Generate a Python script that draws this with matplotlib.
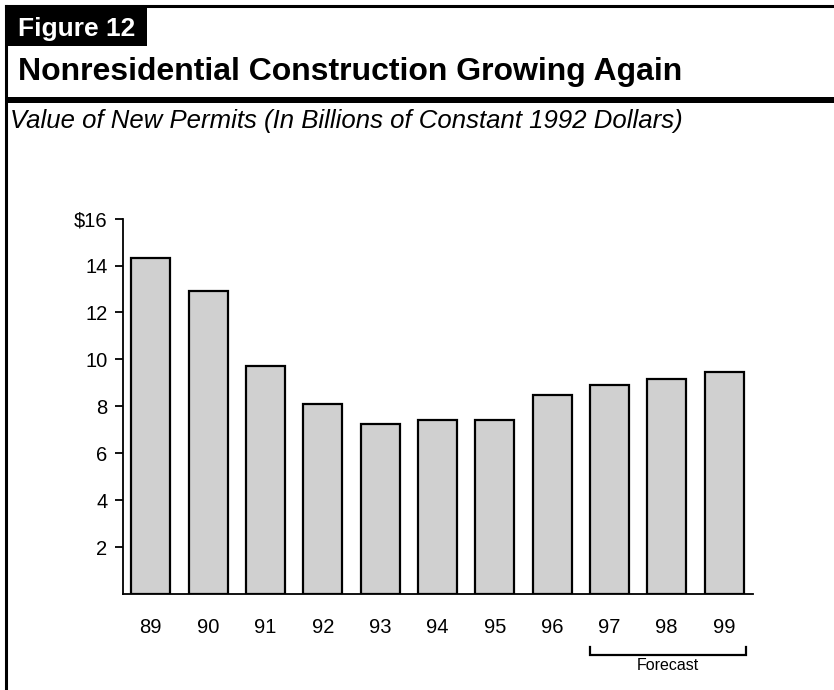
import numpy as np
import matplotlib.pyplot as plt
from matplotlib.patches import Rectangle

plt.rcParams['font.family'] = ['Liberation Sans', 'DejaVu Sans']

years = ["89", "90", "91", "92", "93", "94", "95", "96", "97", "98", "99"]
permits = [14.3, 12.9, 9.7, 8.1, 7.25, 7.4, 7.4, 8.5, 8.9, 9.15, 9.45]
forecast_years = ["97", "98", "99"]
ytick_vals = [2, 4, 6, 8, 10, 12, 14, 16]
ytick_labels = ["2", "4", "6", "8", "10", "12", "14", "$16"]

W, H = 834, 690
fig = plt.figure(figsize=(W / 100, H / 100), dpi=100)

# header frame: thin top rule, left rule, thick rule under the title
fig.add_artist(plt.Line2D([6 / W, 1], [1 - 6 / H, 1 - 6 / H], color="black", lw=2.2))
fig.add_artist(plt.Line2D([6 / W, 6 / W], [0, 1 - 6 / H], color="black", lw=2.2))
fig.add_artist(Rectangle((6 / W, 1 - 103 / H), 1 - 6 / W, 6 / H, color="black", lw=0))
fig.add_artist(Rectangle((5 / W, 1 - 46 / H), 142 / W, 39 / H, color="black", lw=0))

fig.text(18 / W, 1 - 36 / H, "Figure 12", color="white", fontsize=19, fontweight="bold",
         va="baseline", ha="left")
fig.text(18 / W, 1 - 80 / H, "Nonresidential Construction Growing Again", color="black",
         fontsize=23, fontweight="bold", va="baseline", ha="left")
fig.text(10 / W, 1 - 128 / H, "Value of New Permits (In Billions of Constant 1992 Dollars)",
         color="black", fontsize=18.5, style="italic", va="baseline", ha="left")

ax = fig.add_axes([122.7 / W, 1 - 594 / H, 630 / W, (594 - 218.6) / H])
x = np.arange(len(years))
ax.bar(x, permits, width=0.68, color="#d0d0d0", edgecolor="black", linewidth=1.6)

ax.set_xlim(-0.49, len(years) - 0.5)
ax.set_ylim(0, 16)
ax.set_yticks(ytick_vals)
ax.set_yticklabels(ytick_labels, fontsize=14.5)
ax.set_xticks(x)
ax.set_xticklabels(years, fontsize=14.5)
ax.tick_params(axis="x", length=0, pad=17)
ax.tick_params(axis="y", length=6, width=1.3, pad=5)
for s in ["top", "right"]:
    ax.spines[s].set_visible(False)
ax.spines["left"].set_linewidth(1.3)
ax.spines["bottom"].set_linewidth(1.3)

# bracket marking the forecast years
i0 = years.index(forecast_years[0])
i1 = years.index(forecast_years[-1])
bx0, bx1 = i0 - 0.34, i1 + 0.38
ax.plot([bx0, bx0, bx1, bx1], [-2.25, -2.6, -2.6, -2.25], color="black", lw=1.6,
        clip_on=False, solid_joinstyle="miter")
ax.text((bx0 + bx1) / 2, -3.05, "Forecast", ha="center", va="center", fontsize=11.5)

fig.savefig("out.png", dpi=100)
